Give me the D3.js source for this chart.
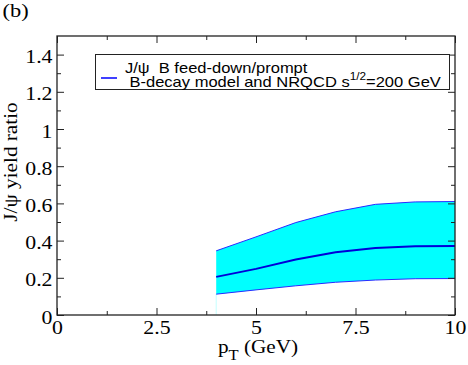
<!DOCTYPE html>
<html>
<head>
<meta charset="utf-8">
<script src="https://cdn.jsdelivr.net/npm/d3@7/dist/d3.min.js"></script>
<style>
  body { margin: 0; background: #fff; }
  svg { display: block; }
</style>
</head>
<body>
<div id="chart"></div>
<script>
// data
const ptValues = [4, 5, 6, 7, 8, 9, 10];
const ratioUpper = [0.345, 0.42, 0.497, 0.555, 0.595, 0.608, 0.61];
const ratioCentral = [0.205, 0.248, 0.298, 0.337, 0.36, 0.369, 0.371];
const ratioLower = [0.112, 0.135, 0.157, 0.176, 0.188, 0.195, 0.196];

const xMajor = [0, 2.5, 5, 7.5, 10];
const xMinor = [1.25, 3.75, 6.25, 8.75];
const yMajor = [0, 0.2, 0.4, 0.6, 0.8, 1, 1.2, 1.4];
const yMinor = [0.1, 0.3, 0.5, 0.7, 0.9, 1.1, 1.3];

// the reference type is a bit wider than the local fonts
const SX = 1.18;
const serif = "'Liberation Serif', 'Times New Roman', serif";
const sans = "'Liberation Sans', Arial, sans-serif";

function place(sel, tx, ty, extra = "") {
  sel.attr("x", null).attr("y", null).attr("dy", null)
    .attr("transform", `translate(${tx},${ty}) ${extra} scale(${SX},1)`);
}

function drawChart() {
  const width = 468, height = 365;
  const margin = { top: 36, right: 13, bottom: 50, left: 57 };
  const w = width - margin.left - margin.right;
  const h = height - margin.top - margin.bottom;

  const svg = d3.select("#chart").append("svg")
    .attr("width", width)
    .attr("height", height);

  const g = svg.append("g")
    .attr("transform", `translate(${margin.left},${margin.top})`);

  const x = d3.scaleLinear().domain([0, 10]).range([0, w]);
  const y = d3.scaleLinear().domain([0, 1.5]).range([h, 0]);

  const rows = ptValues.map((p, i) => ({ p, lo: ratioLower[i], mid: ratioCentral[i], hi: ratioUpper[i] }));

  // faint edge under the band
  g.append("line")
    .attr("x1", x(ptValues[0])).attr("x2", x(ptValues[0]))
    .attr("y1", y(0)).attr("y2", y(ratioLower[0]))
    .attr("stroke", "#c4ffff").attr("stroke-width", 1);

  // band
  g.append("path")
    .datum(rows)
    .attr("fill", "#00ffff")
    .attr("d", d3.area().x(d => x(d.p)).y0(d => y(d.lo)).y1(d => y(d.hi)));

  const line = key => d3.line().x(d => x(d.p)).y(d => y(d[key]));
  g.append("path").datum(rows).attr("fill", "none").attr("stroke", "#2a2aff")
    .attr("stroke-width", 1).attr("d", line("hi"));
  g.append("path").datum(rows).attr("fill", "none").attr("stroke", "#2a2aff")
    .attr("stroke-width", 1).attr("d", line("lo"));
  g.append("path").datum(rows).attr("fill", "none").attr("stroke", "#0000d8")
    .attr("stroke-width", 2).attr("d", line("mid"));

  const styleAxis = sel => {
    sel.select(".domain").remove();
    sel.selectAll("line").attr("stroke", "#222").attr("stroke-width", 1);
    sel.selectAll("text")
      .attr("font-family", serif)
      .attr("font-size", 18.5)
      .attr("fill", "#000");
  };

  // bottom
  g.append("g").attr("transform", `translate(0,${h})`)
    .call(d3.axisBottom(x).tickValues(xMajor).tickFormat(d => String(d)).tickSize(-7))
    .call(styleAxis)
    .selectAll("text").call(place, 0, 19);
  g.append("g").attr("transform", `translate(0,${h})`)
    .call(d3.axisBottom(x).tickValues(xMinor).tickFormat("").tickSize(-4))
    .call(styleAxis);
  // top
  g.append("g")
    .call(d3.axisTop(x).tickValues(xMajor).tickFormat("").tickSize(-7))
    .call(styleAxis);
  g.append("g")
    .call(d3.axisTop(x).tickValues(xMinor).tickFormat("").tickSize(-4))
    .call(styleAxis);
  // left
  g.append("g")
    .call(d3.axisLeft(y).tickValues(yMajor).tickFormat(d => String(d)).tickSize(-7))
    .call(styleAxis)
    .selectAll("text").call(place, -4.5, 8);
  g.append("g")
    .call(d3.axisLeft(y).tickValues(yMinor).tickFormat("").tickSize(-4))
    .call(styleAxis);
  // right
  g.append("g").attr("transform", `translate(${w},0)`)
    .call(d3.axisRight(y).tickValues(yMajor).tickFormat("").tickSize(-7))
    .call(styleAxis);
  g.append("g").attr("transform", `translate(${w},0)`)
    .call(d3.axisRight(y).tickValues(yMinor).tickFormat("").tickSize(-4))
    .call(styleAxis);

  // frame
  g.append("rect")
    .attr("width", w).attr("height", h)
    .attr("fill", "none").attr("stroke", "#222").attr("stroke-width", 1.3);

  // axis titles
  const xt = g.append("text")
    .attr("text-anchor", "middle")
    .attr("font-family", serif)
    .attr("font-size", 18)
    .call(place, 201, h + 38);
  xt.append("tspan").text("p");
  xt.append("tspan").attr("font-size", 14).attr("dy", 7).text("T");
  xt.append("tspan").attr("dy", -7).text("\u00a0(GeV)");

  svg.append("text")
    .attr("text-anchor", "middle")
    .attr("font-family", serif)
    .attr("font-size", 18)
    .text("J/ψ yield ratio")
    .call(place, 17, 162, "rotate(-90)");

  // panel label
  svg.append("text")
    .attr("font-family", serif)
    .attr("font-size", 19)
    .text("(b)")
    .call(place, 2.5, 16.5);

  // legend
  const legend = svg.append("g");
  legend.append("rect")
    .attr("x", 95.5).attr("y", 54.5).attr("width", 354).attr("height", 35)
    .attr("fill", "#fff").attr("stroke", "#222").attr("stroke-width", 1);
  legend.append("line")
    .attr("x1", 101).attr("x2", 117).attr("y1", 78).attr("y2", 78)
    .attr("stroke", "#0000ff").attr("stroke-width", 1.5);
  legend.append("text")
    .attr("font-family", sans)
    .attr("font-size", 14)
    .text("J/ψ\u00a0\u00a0B feed-down/prompt")
    .call(place, 125, 73);
  const l2 = legend.append("text")
    .attr("font-family", sans)
    .attr("font-size", 14)
    .call(place, 129.5, 87);
  l2.append("tspan").text("B-decay model and NRQCD s");
  l2.append("tspan").attr("font-size", 10).attr("dy", -7).text("1/2");
  l2.append("tspan").attr("dy", 7).text("=200 GeV");
}

drawChart();
</script>
</body>
</html>
